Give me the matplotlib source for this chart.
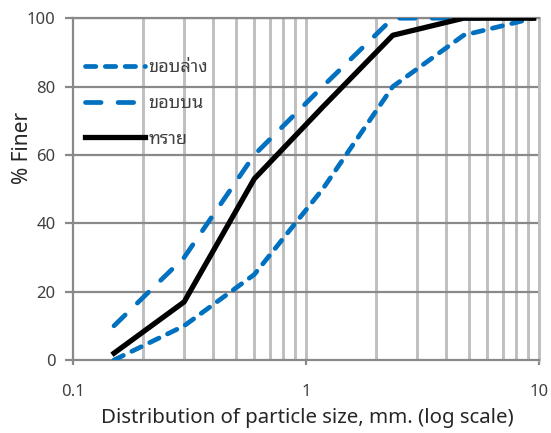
import numpy as np
import matplotlib
matplotlib.use("Agg")
import matplotlib.pyplot as plt
from matplotlib.ticker import FixedLocator, FuncFormatter, NullFormatter

plt.rcParams['font.family'] = ['Noto Sans', 'Noto Sans Thai Looped']

# sieve sizes (mm) and % passing
sizes = [0.15, 0.3, 0.6, 1.18, 2.36, 4.75, 9.5]
lower = [0, 10, 25, 50, 80, 95, 100]
upper = [10, 30, 60, 80, 100, 100, 100]
sand = [2, 17, 53, 74, 95, 100, 100]
names = ['ขอบล่าง', 'ขอบบน', 'ทราย']

dark = '#898989'
light = '#BFBFBF'

fig = plt.figure(figsize=(5.51, 4.33), dpi=100)
ax = fig.add_axes([0.1325, 0.1686, 0.8455, 0.7894])

ax.set_xscale('log')
ax.set_xlim(0.1, 10)
ax.set_ylim(0, 100)

# grid: light vertical lines at every minor/major decade step, dark horizontal
vlines = [m * 10.0 ** e for e in (-1, 0) for m in range(2, 11)]
for v in vlines:
    ax.axvline(v, color=light, lw=2.1, zorder=1)
for h in range(20, 101, 20):
    ax.axhline(h, color=dark, lw=1.6, zorder=1.5)

ax.plot(sizes, lower, color='#0070C0', lw=3.4, dashes=(2.2, 2.0),
        dash_capstyle='round', label=names[0], zorder=3)
ax.plot(sizes, upper, color='#0070C0', lw=3.4, dashes=(3.3, 3.6),
        dash_capstyle='round', label=names[1], zorder=3)
ax.plot(sizes, sand, color='black', lw=3.8, label=names[2], zorder=3)

ax.xaxis.set_major_locator(FixedLocator([0.1, 1, 10]))
ax.xaxis.set_major_formatter(FuncFormatter(lambda v, p: f'{v:g}'))
ax.xaxis.set_minor_locator(FixedLocator([]))
ax.xaxis.set_minor_formatter(NullFormatter())
ax.set_yticks(range(0, 101, 20))

ax.tick_params(axis='x', direction='out', length=3.6, width=1.6, color=dark,
               labelsize=12, labelcolor='#404040', pad=14)
ax.tick_params(axis='y', direction='out', length=5.5, width=1.6, color=dark,
               labelsize=12, labelcolor='#404040', pad=7)

for s in ('left', 'bottom', 'top'):
    ax.spines[s].set_color(dark)
    ax.spines[s].set_linewidth(1.6)
ax.spines['right'].set_color(light)
ax.spines['right'].set_linewidth(2.1)

ax.set_xlabel('Distribution of particle size, mm. (log scale)', fontsize=14.7,
              color='#262626')
ax.set_ylabel('% Finer', fontsize=15, color='#262626')
ax.yaxis.set_label_coords(-0.085, 0.62)
ax.xaxis.set_label_coords(0.503, -0.14)

leg = ax.legend(loc='upper left', bbox_to_anchor=(-0.005, 0.925), frameon=False,
                fontsize=13, handlelength=3.3, handletextpad=0.2,
                labelspacing=0.98, borderaxespad=0.4)
for t in leg.get_texts():
    t.set_color('#404040')

fig.savefig('out.png')
